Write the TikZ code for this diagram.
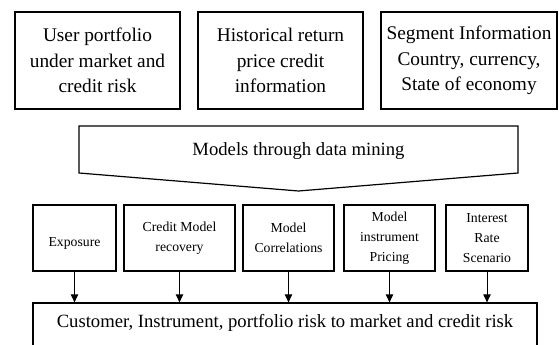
\documentclass[tikz,border=0pt]{standalone}
\usepackage{fontspec}
\setmainfont{Liberation Serif}
\usetikzlibrary{arrows.meta}

\tikzset{every picture/.style={line width=0.9pt}}
\tikzset{
  srcbox/.style={draw, minimum height=0.75*97, inner sep=0.75pt, align=center, font=\fontsize{14.5}{19}\selectfont},
  modelbox/.style={draw, minimum height=0.75*66, inner sep=0.75pt, align=center, font=\fontsize{10.3}{14.8}\selectfont},
  arr/.style={-{Triangle[length=6pt,width=5.5pt]}, line width=0.75pt},
}

\begin{document}
\begin{tikzpicture}[x=0.75pt,y=0.75pt,yscale=-1,xscale=1]
    \useasboundingbox (0,0) rectangle (559,345);
    \clip (0,0) rectangle (559,345);

    %Shape: Rectangle (inputs)
    \node [srcbox, minimum width=0.75*165] (user) at (97.5,60.5) {User portfolio\\under market and\\credit risk};
    \node [srcbox, minimum width=0.75*165] (hist) at (280.5,60.5) {Historical return\\price credit\\information};
    \node [srcbox, minimum width=0.75*176] (segm) at (469,60.5) {Segment Information\\Country, currency,\\State of economy};

    %Shape: Pentagon
    \draw (79,126) -- (518,126) -- (518,173) -- (298.5,191) -- (79,173) -- cycle ;
    % Text Node
    \node [inner sep=0.75pt, font=\fontsize{14}{17}\selectfont] (mining) at (298.5,151) {Models through data mining};

    %Shape: Rectangle (models)
    \node [modelbox, minimum width=0.75*83] (expo) at (74.5,238) {\raisebox{-6pt}[0pt][0pt]{Exposure}};
    \node [modelbox, minimum width=0.75*111] (recov) at (179.5,238) {Credit Model\\recovery};
    \node [modelbox, minimum width=0.75*91] (corr) at (288.5,238) {Model\\Correlations};
    \node [modelbox, minimum width=0.75*91] (price) at (389.5,238) {Model\\instrument\\Pricing};
    \node [modelbox, minimum width=0.75*82] (rate) at (487,238) {Interest\\Rate\\Scenario};

    %Shape: Rectangle (result)
    \node [draw, minimum width=0.75*504, minimum height=0.75*60, inner sep=0.75pt] (risk) at (285,333) {};
    % Text Node
    \node [inner sep=0.75pt, font=\fontsize{14}{17}\selectfont] (risktxt) at (285,323) {Customer, Instrument, portfolio risk to market and credit risk};

    %Straight Lines
    \foreach \m in {expo,recov,corr,price,rate}
      \draw [arr] (\m.south) -- (\m.south |- risk.north) ;
\end{tikzpicture}
\end{document}
